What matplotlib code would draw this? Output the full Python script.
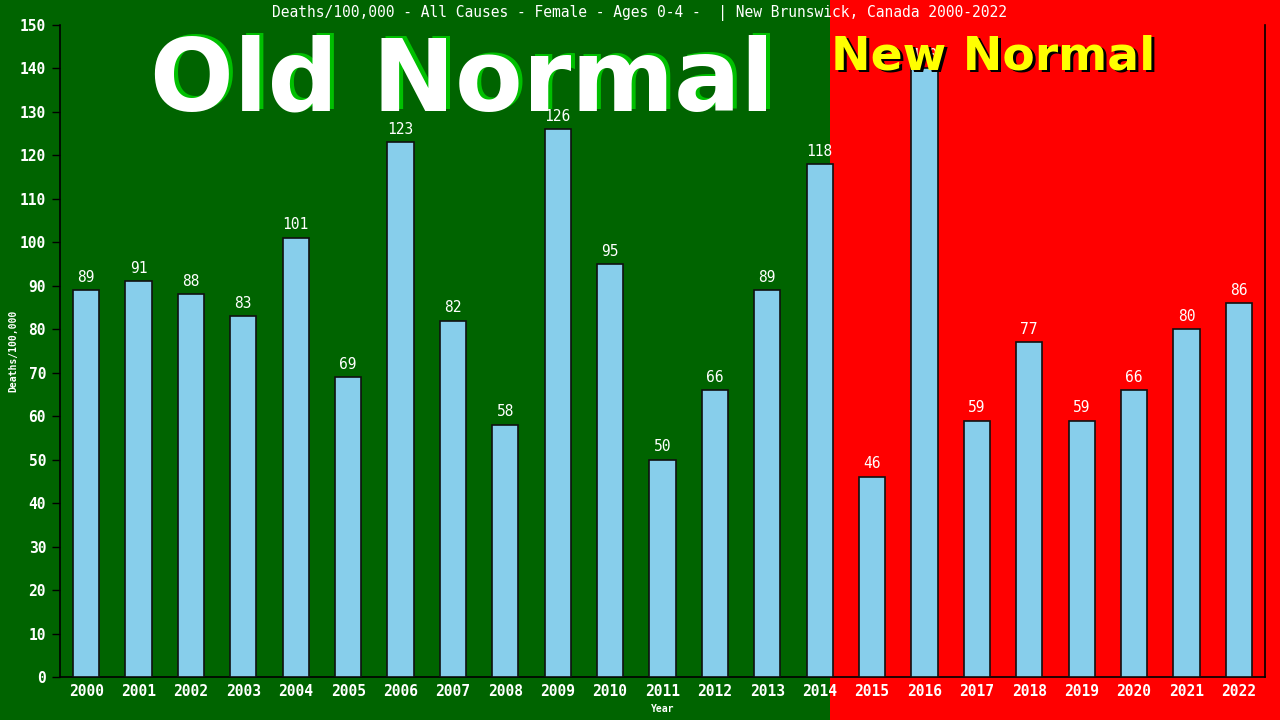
import matplotlib
matplotlib.use("Agg")
import matplotlib.pyplot as plt
from matplotlib.patches import Rectangle
import matplotlib.transforms as mtransforms

years = [str(y) for y in range(2000, 2023)]
values = [89, 91, 88, 83, 101, 69, 123, 82, 58, 126, 95, 50, 66, 89, 118,
          46, 140, 59, 77, 59, 66, 80, 86]
title = "Deaths/100,000 - All Causes - Female - Ages 0-4 -  | New Brunswick, Canada 2000-2022"
yticks = list(range(0, 151, 10))

GREEN = "#006400"
RED = "#ff0000"
BAR = "#87ceeb"
MONO = "DejaVu Sans Mono"

fig = plt.figure(figsize=(12.8, 7.2), dpi=100)
fig.patch.set_facecolor(GREEN)
split = 830 / 1280
fig.patches.append(Rectangle((0, 0), split, 1, transform=fig.transFigure,
                             facecolor=GREEN, edgecolor="none", zorder=-10))
fig.patches.append(Rectangle((split, 0), 1 - split, 1, transform=fig.transFigure,
                             facecolor=RED, edgecolor="none", zorder=-10))

BIG = "DejaVu Sans"
# Old Normal with green shadow
sh1 = mtransforms.offset_copy(fig.transFigure, fig=fig, x=4, y=1, units="dots")
fig.text(462 / 1280, 1 - 110 / 720, "Old Normal", transform=sh1, ha="center",
         va="baseline", fontsize=71, fontweight="bold", family=BIG,
         color="#00c000", zorder=1)
fig.text(462 / 1280, 1 - 110 / 720, "Old Normal", ha="center", va="baseline",
         fontsize=71, fontweight="bold", family=BIG, color="white", zorder=2)

# New Normal with black shadow
sh2 = mtransforms.offset_copy(fig.transFigure, fig=fig, x=3, y=-3, units="dots")
fig.text(993 / 1280, 1 - 69 / 720, "New Normal", transform=sh2, ha="center",
         va="baseline", fontsize=34, fontweight="bold", family=BIG,
         color="black", zorder=1)
fig.text(993 / 1280, 1 - 69 / 720, "New Normal", ha="center", va="baseline",
         fontsize=34, fontweight="bold", family=BIG, color="yellow", zorder=2)

ax = fig.add_axes([60 / 1280, 43 / 720, 1205 / 1280, 652 / 720])
ax.set_facecolor("none")

x = list(range(len(years)))
bars = ax.bar(x, values, width=0.5, color=BAR, edgecolor="#101010", linewidth=1.2, zorder=3)

for xi, v in zip(x, values):
    ax.annotate(str(v), (xi, v), xytext=(0, 4), textcoords="offset points",
                ha="center", va="bottom", color="white", fontsize=10.5,
                family=MONO, zorder=6)

ax.set_xlim(-0.5, len(years) - 0.5)
ax.set_ylim(0, 150)
ax.set_xticks(x)
ax.set_xticklabels(years)
ax.set_yticks(yticks)
ax.tick_params(axis="x", length=0, pad=5, colors="white", labelsize=10.5)
ax.tick_params(axis="y", length=6, width=1, direction="out", pad=4,
               colors="black", labelcolor="white", labelsize=10.5)
for lab in ax.get_xticklabels() + ax.get_yticklabels():
    lab.set_family(MONO)
    lab.set_fontweight("bold")

ax.spines["top"].set_visible(False)
for s in ["left", "right", "bottom"]:
    ax.spines[s].set_color("black")
    ax.spines[s].set_linewidth(1.2)

ax.set_ylabel("Deaths/100,000", color="white", fontsize=7, family=MONO,
              fontweight="bold", labelpad=1)
ax.set_xlabel("Year", color="white", fontsize=7, family=MONO,
              fontweight="bold", labelpad=4)

fig.text(0.5, 1 - 13 / 720, title, ha="center", va="center", color="white",
         fontsize=10.5, family=MONO)

fig.savefig("out.png", dpi=100, facecolor=fig.get_facecolor())
